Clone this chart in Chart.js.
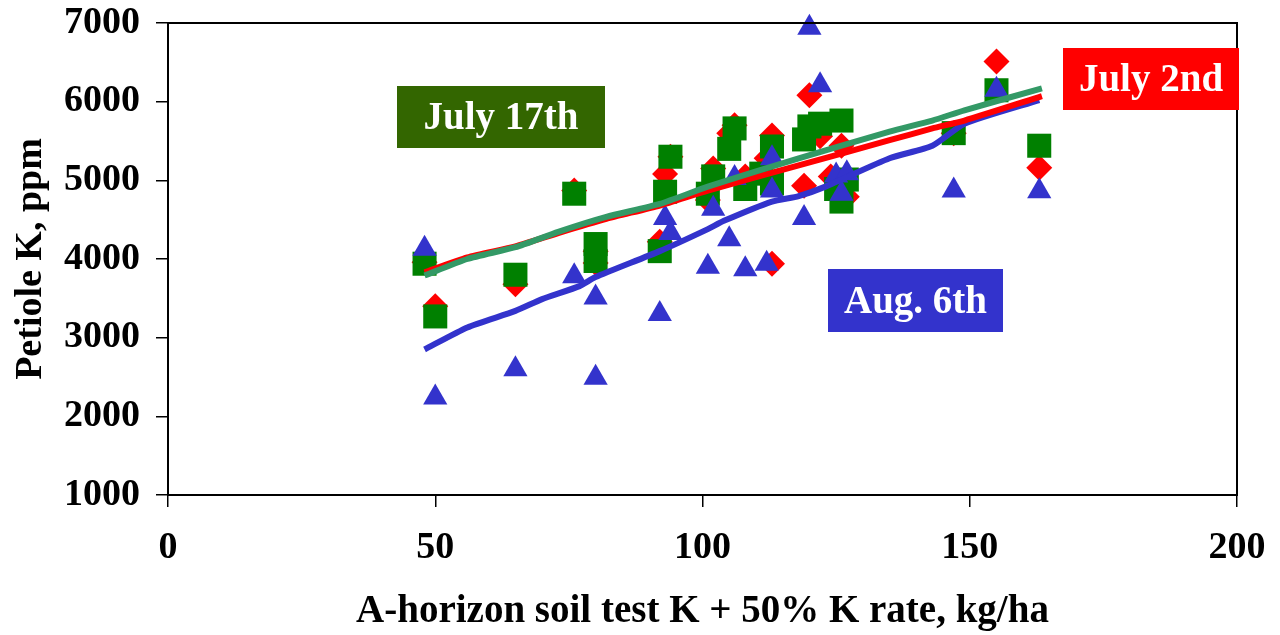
<!DOCTYPE html>
<html>
<head>
<meta charset="utf-8">
<script src="https://cdn.jsdelivr.net/npm/chart.js@4/dist/chart.umd.min.js"></script>
<style>
  body { margin: 0; background: #fff; }
  #wrap { width: 1280px; height: 635px; position: relative; }
</style>
</head>
<body>
<div id="wrap"><canvas id="chart"></canvas></div>
<script>
// points: x = soil test K + 50% K rate, y = petiole K
const july2X = [48, 50, 65, 76, 80, 80, 92, 93, 94, 101, 102, 105, 106, 108, 112, 113, 113, 119, 120, 122, 124, 126, 127, 147, 155, 163];
const july2Y = [3960, 3400, 3680, 4870, 4100, 3950, 4220, 5080, 5300, 4750, 5150, 5600, 5700, 5050, 5280, 5570, 3940, 4930, 6080, 5560, 5050, 5440, 4790, 5600, 6510, 5160];

const july17X = [48, 50, 65, 76, 80, 80, 92, 93, 94, 101, 102, 105, 106, 108, 111, 113, 113, 119, 120, 122, 125, 126, 126, 127, 147, 155, 163];
const july17Y = [3940, 3270, 3800, 4830, 4190, 3975, 4100, 4855, 5300, 4830, 5050, 5400, 5660, 4890, 5085, 5430, 4960, 5520, 5685, 5720, 4890, 4730, 5760, 5010, 5600, 6145, 5440];

const aug6X = [48, 50, 65, 76, 80, 80, 92, 93, 94, 101, 102, 105, 106, 108, 112, 113, 113, 119, 120, 122, 125, 126, 127, 147, 155, 163];
const aug6Y = [4130, 2240, 2600, 3780, 3510, 2490, 3300, 4520, 4330, 3900, 4640, 4250, 5030, 3870, 3940, 5280, 4870, 4520, 6940, 6210, 5060, 4830, 5090, 4870, 6150, 4860];

// trend lines
const trendX2 = [48, 56, 65, 73, 82, 92, 101, 118, 135, 143, 149, 163.5];
const trend2Y = [3830, 4020, 4160, 4330, 4510, 4680, 4870, 5190, 5510, 5660, 5760, 6070];
const trendX17 = [48, 56, 65, 73, 82, 92, 101, 118, 135, 143, 149, 163.5];
const trend17Y = [3790, 4000, 4150, 4345, 4535, 4700, 4920, 5280, 5620, 5760, 5890, 6170];
const trendX6 = [48, 56, 65, 70, 77, 80, 92, 101, 104, 113, 118, 123, 135, 143, 149, 163];
const trend6Y = [2850, 3130, 3340, 3490, 3655, 3770, 4100, 4380, 4485, 4730, 4800, 4920, 5280, 5440, 5720, 6020];

const xTicks = [0, 50, 100, 150, 200];
const yTicks = [1000, 2000, 3000, 4000, 5000, 6000, 7000];

const RED = '#ff0000';
const GREEN = '#008000';
const BLUE = '#3333cc';
const SERIF = '"Liberation Serif", "Times New Roman", serif';

const pts = (xs, ys) => xs.map((x, i) => ({ x: x, y: ys[i] }));

// text boxes
const boxes = [
  { text: 'July 17th', bg: '#336600', x: 397, y: 86, w: 208, h: 62 },
  { text: 'July 2nd', bg: RED, x: 1063, y: 48, w: 176, h: 62 },
  { text: 'Aug. 6th', bg: BLUE, x: 828, y: 269, w: 175, h: 63 }
];

const labelPlugin = {
  id: 'labels',
  afterDraw(chart) {
    const ctx = chart.ctx;
    ctx.save();
    // plot frame
    const a = chart.chartArea;
    ctx.strokeStyle = '#000';
    ctx.lineWidth = 2;
    ctx.strokeRect(a.left, a.top, a.right - a.left, a.bottom - a.top);
    boxes.forEach(b => {
      ctx.fillStyle = b.bg;
      ctx.fillRect(b.x, b.y, b.w, b.h);
      ctx.fillStyle = '#fff';
      ctx.font = 'bold 39px ' + SERIF;
      ctx.textAlign = 'center';
      ctx.textBaseline = 'middle';
      ctx.fillText(b.text, b.x + b.w / 2, b.y + b.h / 2 + 2);
    });
    ctx.restore();
  }
};

new Chart(document.getElementById('chart'), {
  type: 'scatter',
  data: {
    datasets: [
      { type: 'line', data: pts(trendX17, trend17Y), borderColor: '#339966', borderWidth: 6, pointRadius: 0, fill: false, tension: 0.2 },
      { type: 'line', data: pts(trendX2, trend2Y), borderColor: RED, borderWidth: 6, pointRadius: 0, fill: false, tension: 0.2 },
      { type: 'line', data: pts(trendX6, trend6Y), borderColor: BLUE, borderWidth: 6, pointRadius: 0, fill: false, tension: 0.2 },
      { label: 'Aug. 6th', data: pts(aug6X, aug6Y), clip: false, pointStyle: 'triangle', pointRadius: 14, backgroundColor: BLUE, borderColor: BLUE, borderWidth: 0 },
      { label: 'July 17th', data: pts(july17X, july17Y), clip: false, pointStyle: 'rect', pointRadius: 17, backgroundColor: GREEN, borderColor: GREEN, borderWidth: 0 },
      { label: 'July 2nd', data: pts(july2X, july2Y), clip: false, pointStyle: 'rectRot', pointRadius: 13, backgroundColor: RED, borderColor: RED, borderWidth: 0 }
    ]
  },
  options: {
    responsive: true,
    maintainAspectRatio: false,
    animation: false,
    layout: { padding: { top: 23, right: 43, left: 8, bottom: 0 } },
    plugins: { legend: { display: false }, tooltip: { enabled: false } },
    scales: {
      x: {
        type: 'linear', min: 0, max: 200,
        afterBuildTicks: s => { s.ticks = xTicks.map(v => ({ value: v })); },
        afterFit: s => { s.height = 140; s.paddingLeft = 0; s.paddingRight = 0; },
        grid: { display: true, drawOnChartArea: false, tickLength: 12, color: '#000', lineWidth: 1.5 },
        border: { color: '#000', width: 2 },
        ticks: { color: '#000', padding: 18, callback: v => String(v), font: { family: SERIF, size: 38, weight: 'bold' } },
        title: { display: true, text: 'A-horizon soil test K + 50% K rate, kg/ha', color: '#000', padding: { top: 0, bottom: 0 }, font: { family: SERIF, size: 39, weight: 'bold' } }
      },
      y: {
        type: 'linear', min: 1000, max: 7000,
        afterBuildTicks: s => { s.ticks = yTicks.map(v => ({ value: v })); },
        afterFit: s => { s.width = 160; s.paddingTop = 0; s.paddingBottom = 0; },
        grid: { display: true, drawOnChartArea: false, tickLength: 12, color: '#000', lineWidth: 1.5 },
        border: { color: '#000', width: 2 },
        ticks: { color: '#000', padding: 16, callback: v => String(v), font: { family: SERIF, size: 38, weight: 'bold' } },
        title: { display: true, text: 'Petiole K, ppm', color: '#000', padding: { top: 0, bottom: 0 }, font: { family: SERIF, size: 38, weight: 'bold' } }
      }
    }
  },
  plugins: [labelPlugin]
});
</script>
</body>
</html>
